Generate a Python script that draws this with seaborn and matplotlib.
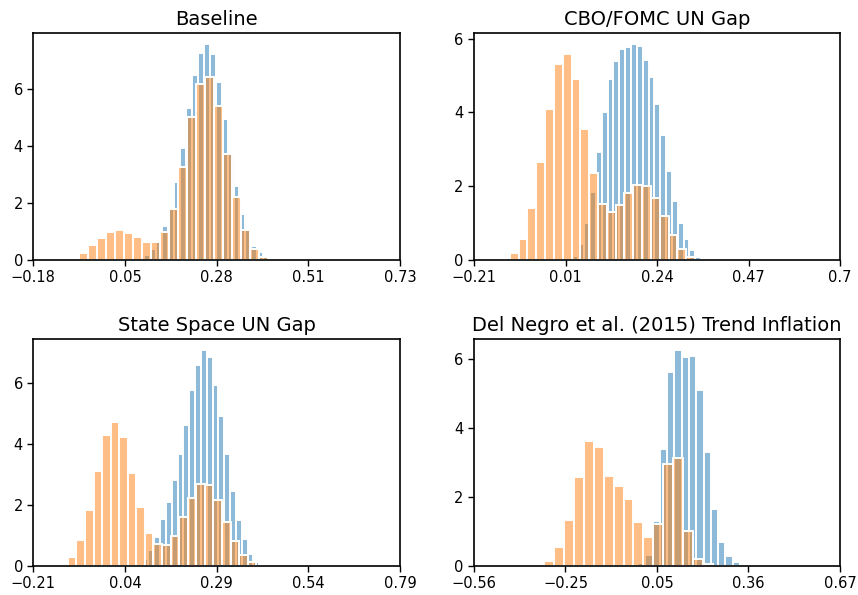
import numpy as np
import pandas as pd
import matplotlib
matplotlib.use("Agg")
import matplotlib.pyplot as plt
from matplotlib.ticker import MultipleLocator
import seaborn as sns

plt.rcParams['font.family'] = ['DejaVu Sans']

titles = ["Baseline", "CBO/FOMC UN Gap", "State Space UN Gap",
          "Del Negro et al. (2015) Trend Inflation"]

# ---- Panel 1: Baseline ----
p1_xlim = (-0.178, 0.734)
p1_ticklabels = ["\u22120.18", "0.05", "0.28", "0.51", "0.73"]
p1_blue_start, p1_blue_width = 0.0684, 0.0148
p1_blue = [0.03, 0.08, 0.18, 0.39, 0.71, 1.18, 1.86, 2.75, 3.94, 5.33, 6.49, 7.29,
           7.59, 7.24, 6.27, 4.96, 3.71, 2.61, 1.61, 1.06, 0.49, 0.27, 0.09]
p1_orange_start, p1_orange_width = -0.086, 0.0224
p1_orange = [0.08, 0.25, 0.51, 0.76, 0.99, 1.04, 0.94, 0.80, 0.65, 0.65, 0.97, 1.81,
             3.27, 5.04, 6.19, 6.44, 5.42, 3.73, 2.20, 1.06, 0.40, 0.12]

# ---- Panel 2: CBO/FOMC UN Gap ----
p2_xlim = (-0.2135, 0.70)
p2_ticklabels = ["\u22120.21", "0.01", "0.24", "0.47", "0.7"]
p2_blue_start, p2_blue_width = 0.018, 0.01458
p2_blue = [0.02, 0.12, 0.42, 1.01, 1.83, 2.93, 4.02, 4.90, 5.40, 5.73, 5.78, 5.85, 5.79,
           5.41, 4.96, 4.24, 3.40, 2.40, 1.61, 0.99, 0.57, 0.27, 0.09,
           0.0, 0.0, 0.0, 0.0, 0.0, 0.0, 0.0, 0.01]
p2_orange_start, p2_orange_width = -0.146, 0.022
p2_orange = [0.02, 0.20, 0.57, 1.41, 2.65, 4.10, 5.31, 5.58, 4.90, 3.56, 2.36, 1.51,
             1.30, 1.48, 1.81, 2.04, 2.00, 1.68, 1.18, 0.68, 0.31, 0.09]

# ---- Panel 3: State Space UN Gap ----
p3_xlim = (-0.21, 0.79)
p3_ticklabels = ["\u22120.21", "0.04", "0.29", "0.54", "0.79"]
p3_blue_start, p3_blue_width = 0.0403, 0.01591
p3_blue = [0.0, 0.0, 0.04, 0.23, 0.52, 0.94, 1.53, 2.11, 2.82, 3.67, 4.62, 5.77, 6.57,
           7.08, 6.84, 5.93, 4.90, 3.67, 2.44, 1.51, 0.89, 0.39, 0.14, 0.03,
           0.0, 0.0, 0.0, 0.0, 0.0, 0.01]
p3_orange_start, p3_orange_width = -0.139, 0.02334
p3_orange = [0.06, 0.30, 0.85, 1.83, 3.10, 4.28, 4.73, 4.21, 3.05, 1.93, 1.07, 0.71,
             0.68, 0.99, 1.59, 2.23, 2.70, 2.64, 2.17, 1.44, 0.83, 0.37, 0.13]

# ---- Panel 4: Del Negro et al. (2015) Trend Inflation ----
p4_xlim = (-0.562, 0.668)
p4_ticklabels = ["\u22120.56", "\u22120.25", "0.05", "0.36", "0.67"]
p4_blue_start, p4_blue_width = -0.5247, 0.02448
p4_blue = [0.01] + [0.0] * 20 + [0.10, 0.32, 1.30, 3.38, 5.62, 6.26, 6.04, 6.08, 5.10,
                                 3.29, 1.64, 0.69, 0.29, 0.13, 0.05]
p4_orange_start, p4_orange_width = -0.359, 0.03327
p4_orange = [0.01, 0.145, 0.56, 1.32, 2.59, 3.63, 3.46, 2.60, 2.32, 1.93, 1.26, 0.85,
             1.22, 2.95, 3.12, 1.02, 0.20, 0.05]

panels = [
    (p1_xlim, p1_ticklabels, (p1_blue_start, p1_blue_width, p1_blue),
     (p1_orange_start, p1_orange_width, p1_orange)),
    (p2_xlim, p2_ticklabels, (p2_blue_start, p2_blue_width, p2_blue),
     (p2_orange_start, p2_orange_width, p2_orange)),
    (p3_xlim, p3_ticklabels, (p3_blue_start, p3_blue_width, p3_blue),
     (p3_orange_start, p3_orange_width, p3_orange)),
    (p4_xlim, p4_ticklabels, (p4_blue_start, p4_blue_width, p4_blue),
     (p4_orange_start, p4_orange_width, p4_orange)),
]

W, H = 858, 595
fig = plt.figure(figsize=(W / 100, H / 100), dpi=100)

# axes boxes in pixels: left, top, right, bottom
boxes = [(33.3, 33.3, 400, 260), (474, 33.3, 840, 260),
         (33.3, 339, 400, 566), (474, 339, 840, 566)]

colors = ["#1f77b4", "#ff7f0e"]

for (xlim, ticklabels, blue, orange), title, (l, t, r, b) in zip(panels, titles, boxes):
    ax = fig.add_axes([l / W, (H - b) / H, (r - l) / W, (b - t) / H])
    for (start, width, heights), color in zip([blue, orange], colors):
        heights = np.asarray(heights, dtype=float)
        edges = start + width * np.arange(len(heights) + 1)
        centers = (edges[:-1] + edges[1:]) / 2
        df = pd.DataFrame({"value": centers, "density": heights})
        sns.histplot(data=df, x="value", weights="density", bins=list(edges),
                     stat="count", color=color, alpha=0.5, edgecolor="white",
                     linewidth=1.4, ax=ax)
    ax.set_xlim(*xlim)
    ax.set_xticks(np.linspace(xlim[0], xlim[1], 5))
    ax.set_xticklabels(ticklabels)
    ax.yaxis.set_major_locator(MultipleLocator(2))
    ax.set_xlabel("")
    ax.set_ylabel("")
    ax.set_title(title, fontsize=14)
    ax.tick_params(axis="both", labelsize=10.5, length=4, width=1.0, color="black")
    for s in ax.spines.values():
        s.set_linewidth(1.2)
        s.set_color("black")

fig.savefig("out.png", dpi=100)
